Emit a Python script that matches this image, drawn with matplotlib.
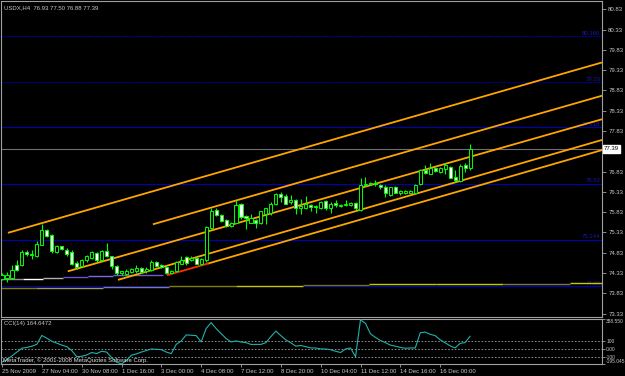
import numpy as np
import matplotlib.pyplot as plt
from matplotlib.transforms import blended_transform_factory

# USDX H4 candles (open, high, low, close)
opens = [74.19, 74.21, 74.21, 74.52, 74.52, 74.85, 74.80, 74.76, 75.03, 75.40,
         75.26, 74.85, 74.99, 74.90, 74.84, 74.57, 74.49, 74.66, 74.71, 74.82,
         74.64, 74.86, 74.74, 74.49, 74.33, 74.31, 74.36, 74.37, 74.45, 74.37,
         74.41, 74.60, 74.52, 74.47, 74.34, 74.37, 74.56, 74.72, 74.64, 74.71,
         74.55, 74.64, 75.45, 75.89, 75.77, 75.63, 75.50, 75.56, 76.04, 75.73,
         75.57, 75.63, 75.56, 75.79, 75.81, 76.04, 76.27, 76.23, 76.08, 76.14,
         75.92, 75.93, 76.01, 75.97, 75.93, 76.10, 75.92, 76.06, 75.97, 76.00,
         76.01, 76.05, 75.89, 76.49, 76.52, 76.56, 76.51, 76.45, 76.26, 76.45,
         76.29, 76.29, 76.30, 76.30, 76.52, 76.88, 76.78, 76.92, 76.82, 76.90,
         76.94, 76.70, 76.60, 76.98, 76.93]
highs = [74.34, 74.35, 74.53, 74.64, 74.89, 74.89, 74.90, 75.12, 75.53, 75.42,
         75.30, 75.01, 75.00, 74.94, 74.89, 74.62, 74.68, 74.78, 74.87, 74.85,
         74.89, 75.07, 74.76, 74.52, 74.39, 74.42, 74.45, 74.53, 74.47, 74.47,
         74.64, 74.62, 74.54, 74.52, 74.41, 74.62, 74.76, 74.76, 74.74, 74.74,
         74.69, 75.50, 75.92, 75.92, 75.79, 75.67, 75.59, 76.12, 76.06, 75.75,
         75.79, 75.67, 75.87, 75.94, 76.08, 76.29, 76.33, 76.27, 76.25, 76.16,
         76.16, 76.22, 76.04, 76.00, 76.10, 76.14, 76.08, 76.12, 76.04, 76.12,
         76.08, 76.08, 76.66, 76.70, 76.57, 76.63, 76.53, 76.49, 76.46, 76.47,
         76.38, 76.37, 76.37, 76.53, 76.90, 76.99, 77.05, 76.94, 76.94, 77.03,
         76.96, 76.86, 77.01, 77.03, 77.50]
lows = [74.15, 74.10, 74.19, 74.39, 74.50, 74.76, 74.68, 74.72, 75.01, 75.22,
        74.82, 74.83, 74.89, 74.76, 74.52, 74.43, 74.47, 74.60, 74.68, 74.60,
        74.62, 74.72, 74.43, 74.29, 74.29, 74.29, 74.34, 74.34, 74.33, 74.33,
        74.39, 74.47, 74.45, 74.31, 74.33, 74.35, 74.54, 74.53, 74.62, 74.54,
        74.53, 74.60, 75.42, 75.73, 75.58, 75.46, 75.46, 75.55, 75.67, 75.42,
        75.55, 75.45, 75.53, 75.54, 75.77, 76.01, 76.08, 76.02, 76.02, 75.79,
        75.79, 75.91, 75.87, 75.82, 75.91, 75.89, 75.81, 75.96, 75.96, 75.97,
        75.97, 75.89, 75.87, 76.47, 76.49, 76.47, 76.41, 76.20, 76.24, 76.29,
        76.26, 76.27, 76.29, 76.29, 76.49, 76.76, 76.76, 76.82, 76.80, 76.78,
        76.66, 76.57, 76.57, 76.82, 76.88]
closes = [74.27, 74.27, 74.41, 74.41, 74.85, 74.79, 74.78, 75.05, 75.38, 75.24,
          74.86, 74.99, 74.91, 74.80, 74.54, 74.47, 74.66, 74.74, 74.85, 74.64,
          74.86, 74.76, 74.49, 74.33, 74.37, 74.37, 74.42, 74.45, 74.35, 74.43,
          74.61, 74.50, 74.47, 74.33, 74.38, 74.60, 74.64, 74.57, 74.71, 74.56,
          74.68, 75.46, 75.87, 75.75, 75.60, 75.48, 75.56, 76.00, 75.71, 75.68,
          75.68, 75.56, 75.85, 75.92, 76.04, 76.27, 76.20, 76.04, 76.12, 75.94,
          75.97, 76.04, 75.96, 75.95, 76.08, 75.93, 76.04, 76.00, 76.01, 76.04,
          76.06, 75.92, 76.49, 76.53, 76.55, 76.52, 76.45, 76.29, 76.45, 76.30,
          76.34, 76.34, 76.34, 76.51, 76.86, 76.80, 76.92, 76.85, 76.92, 76.98,
          76.67, 76.62, 76.96, 76.93, 77.39]

# CCI(14) values
cci = [-170, -140, -90, -40, 10, 20, 36, 60, 175, 140,
       100, 75, 50, 30, -20, -100, -95, -78, -46, -60,
       -30, -40, -110, -170, -195, -150, -80, -64, -40, -20,
       0, -5, -9, -40, -60, 60, 104, 182, 178, 173,
       91, 265, 342, 265, 200, 136, 91, 104, 90, 82,
       59, 59, 59, 82, 160, 232, 173, 118, 80, 36,
       45, 30, 13, 13, 0, 0, -9, -30, -46, 0,
       13, -101, 378, 332, 196, 150, 110, 82, 50, 36,
       20, 9, 13, 13, 210, 219, 190, 173, 118, 80,
       40, 13, 73, 82, 164.65]

date_ticks = [0, 8, 16, 24, 32, 40, 48, 56, 64, 72, 80, 88]
date_labels = ['25 Nov 2009', '27 Nov 04:00', '30 Nov 08:00', '1 Dec 16:00',
               '3 Dec 00:00', '4 Dec 08:00', '7 Dec 12:00', '8 Dec 20:00',
               '10 Dec 04:00', '11 Dec 12:00', '14 Dec 16:00', '16 Dec 00:00']

# channel trendlines: start bar, start price, price at right edge
chan_start_bar = [1.2, 30.3, 13.2, 23.3, 41.3]
chan_start_price = [75.32, 75.53, 74.37, 74.16, 74.56]
chan_end_price = [79.52, 78.70, 78.12, 77.61, 77.36]
red_bars = [33.3, 41.3]
red_prices = [74.28, 74.56]

# horizontal levels
lvl_prices = [80.160, 79.03, 77.918, 76.53, 75.144, 74.00]
lvl_labels = ['80.160', '79.03', '77.918', '76.53', '75.144', '74.00']
lvl_dotted = [True, True, False, False, False, False]

# small stepped lines near the bottom
stepA_start = [-0.5, 4.2, 8.2, 12.2, 17.2, 22.2]
stepA_end = [4.2, 8.2, 12.2, 17.2, 22.2, 32.3]
stepA_price = [74.17, 74.19, 74.21, 74.23, 74.25, 74.27]
stepA_color = ['#909090', '#ffffff', '#b0b0b0', '#6a50d0', '#7b68ee', '#6a5acd']
stepB_start = [-0.5, 6.8, 20.3, 33.6, 47.0, 60.5, 73.7, 87.2, 100.6, 114.0]
stepB_end = [6.8, 20.3, 33.6, 47.0, 60.5, 73.7, 87.2, 100.6, 114.0, 121.0]
stepB_price = [73.95, 73.97, 73.99, 74.005, 74.02, 74.04, 74.047, 74.06, 74.07, 74.09]
stepB_color = ['#808000', '#9a9a60', '#808080', '#808000', '#c8c800',
               '#707020', '#c8c800', '#c8c800', '#7a7a50', '#c8c800']

last_price = 77.39
price_ticks = [73.33, 73.83, 74.33, 74.83, 75.33, 75.83, 76.33, 76.83,
               77.83, 78.33, 78.83, 79.33, 79.83, 80.33, 80.83]
cci_ticks = [388.55, 100, 0, -100, -195.045]
cci_tick_labels = ['388.550', '100', '0.00', '-100', '-195.045']

plt.rcParams['font.family'] = ['Liberation Sans Narrow', 'Liberation Sans', 'DejaVu Sans']
FS = 4.3
W, H = 625, 376
fig = plt.figure(figsize=(6.25, 3.76), dpi=100, facecolor='black')


def px_axes(x0, y0, x1, y1):
    return fig.add_axes([x0 / W, 1 - y1 / H, (x1 - x0) / W, (y1 - y0) / H])


ax = px_axes(1.5, 1, 602, 316.5)
ac = px_axes(1.5, 319, 602, 364)
XMIN, XMAX = -0.1, 120.5
lab_col = '#c8c8c8'
frame_col = '#a0a0a0'

for a in (ax, ac):
    a.set_facecolor('black')
    a.set_xlim(XMIN, XMAX)
    for s in a.spines.values():
        s.set_color(frame_col)
        s.set_linewidth(0.8)
    a.yaxis.tick_right()
    a.tick_params(axis='y', colors=frame_col, labelcolor=lab_col, length=3,
                  width=0.6, labelsize=FS, pad=1.5)

# main window
ax.set_ylim(73.257, 81.035)
ax.set_xticks([])
ax.set_yticks(price_ticks)
ax.set_yticklabels(['%.2f' % p for p in price_ticks])

for p, lab, dot in zip(lvl_prices, lvl_labels, lvl_dotted):
    ax.axhline(p, color='#0000b4', lw=0.8, ls=(0, (1.5, 1)) if dot else '-', zorder=1)
    ax.text(XMAX - 0.3, p + 0.02, lab, color='#1818b0', fontsize=FS,
            ha='right', va='bottom', zorder=2)

ax.hlines(stepA_price, stepA_start, stepA_end, colors=stepA_color, lw=1.0, zorder=2)
ax.hlines(stepB_price, stepB_start, stepB_end, colors=stepB_color, lw=1.0, zorder=2)

ax.axhline(last_price, color='#707070', lw=0.8, zorder=1)

for b0, p0, p1 in zip(chan_start_bar, chan_start_price, chan_end_price):
    ax.plot([b0, XMAX], [p0, p1], color='#ffa500', lw=1.3, zorder=2,
            solid_capstyle='butt')
ax.plot(red_bars, red_prices, color='#ff3000', lw=1.3, zorder=2)

o = np.array(opens)
h = np.array(highs)
l = np.array(lows)
c = np.array(closes)
idx = np.arange(len(o))
up = c >= o
ax.vlines(idx, l, h, color='#00ff00', lw=0.8, zorder=3)
body = np.maximum(np.abs(c - o), 0.006)
ax.bar(idx, body, bottom=np.minimum(o, c), width=0.62,
       color=np.where(up, 'black', 'white'), edgecolor='#00ff00',
       linewidth=0.7, zorder=4)

trans = blended_transform_factory(ax.transAxes, ax.transData)
ax.text(1.003, last_price, '%.2f' % last_price, transform=trans, fontsize=FS,
        color='black', va='center', ha='left',
        bbox=dict(boxstyle='square,pad=0.2', fc='white', ec='white'), zorder=6)

# CCI window
ac.set_ylim(-195.045, 388.55)
ac.plot(idx, cci, color='#20b2aa', lw=0.8, zorder=3)
for lv in (100, 0, -100):
    ac.axhline(lv, color='#a0a0a0', lw=0.6, ls=(0, (2, 2)), zorder=1)
ac.set_yticks(cci_ticks)
ac.set_yticklabels(cci_tick_labels)
ac.tick_params(axis='y', labelsize=3.5, pad=0.5, length=2.5)
ylabs = ac.get_yticklabels()
ylabs[0].set_va('top')
ylabs[-1].set_va('bottom')
ac.set_xticks(date_ticks)
ac.set_xticklabels(date_labels)
ac.tick_params(axis='x', colors=frame_col, labelcolor=lab_col, length=2,
               width=0.6, labelsize=FS, pad=1.5)
for t in ac.get_xticklabels():
    t.set_ha('left')

fig.text(4 / W, 1 - 8 / H, 'USDX,H4  76.93 77.50 76.88 77.39', color=lab_col,
         fontsize=FS, va='center', ha='left')
fig.text(4 / W, 1 - 324 / H, 'CCI(14) 164.6472', color=lab_col,
         fontsize=FS, va='center', ha='left')
fig.text(3 / W, 1 - 360 / H, 'MetaTrader, \u00a9 2001-2008 MetaQuotes Software Corp.',
         color='#e0e0e0', fontsize=FS, va='center', ha='left')

fig.savefig('out.png', dpi=100, facecolor='black')
